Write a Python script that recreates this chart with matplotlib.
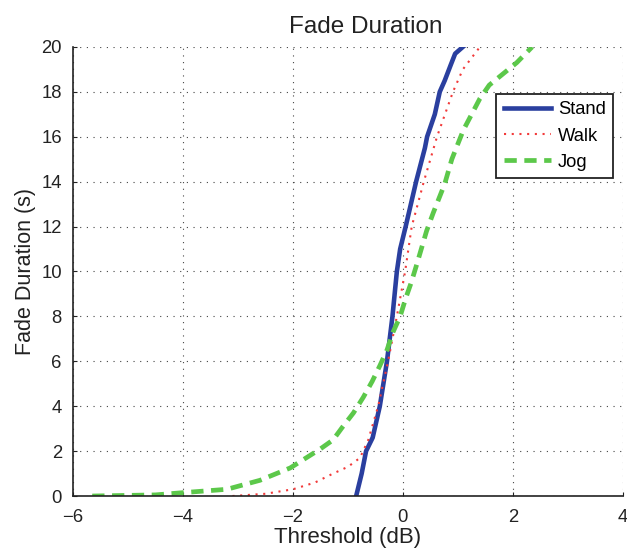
import matplotlib
matplotlib.use("Agg")
import matplotlib.pyplot as plt

plt.rcParams['font.family'] = ['Liberation Sans', 'DejaVu Sans']

# fade duration (s) vs threshold (dB)
stand_x = [-0.85, -0.75, -0.67, -0.55, -0.42, -0.29, -0.19, -0.11, -0.05, 0.05,
           0.24, 0.40, 0.44, 0.58, 0.67, 0.76, 0.87, 0.95, 1.09]
stand_y = [0.0, 1.0, 2.0, 2.6, 4.0, 6.0, 8.0, 10.0, 11.0, 12.0,
           14.0, 15.5, 16.0, 17.0, 18.0, 18.5, 19.2, 19.7, 20.0]

walk_x = [-3.1, -2.5, -2.0, -1.6, -1.27, -1.0, -0.78, -0.63, -0.45, -0.27,
          -0.11, 0.04, 0.16, 0.38, 0.62, 0.91, 1.09, 1.40]
walk_y = [0.0, 0.1, 0.3, 0.6, 1.0, 1.3, 1.7, 2.5, 4.0, 6.0,
          8.0, 10.0, 12.0, 14.0, 16.0, 18.0, 19.0, 20.0]

jog_x = [-5.65, -4.5, -4.0, -3.2, -2.6, -2.05, -1.5, -1.27, -1.09, -0.9,
         -0.72, -0.56, -0.42, -0.29, -0.18, -0.05, 0.05, 0.15, 0.25, 0.43,
         0.55, 0.76, 0.89, 0.97, 1.10, 1.25, 1.40, 1.57, 1.82, 2.07, 2.35]
jog_y = [0.0, 0.05, 0.15, 0.3, 0.7, 1.25, 2.1, 2.5, 3.1, 3.7,
         4.4, 5.1, 5.8, 6.5, 7.3, 8.0, 8.8, 9.5, 10.3, 11.8,
         12.6, 13.9, 15.0, 15.5, 16.3, 17.0, 17.7, 18.3, 18.8, 19.3, 20.0]

x_ticks = [-6, -4, -2, 0, 2, 4]
y_ticks = [0, 2, 4, 6, 8, 10, 12, 14, 16, 18, 20]

fig = plt.figure(figsize=(6.27, 5.49), dpi=100)
ax = fig.add_axes([0.1164, 0.0965, 0.877, 0.818])

ax.plot(stand_x, stand_y, color='#2a3f9f', lw=3.3, label='Stand')
ax.plot(walk_x, walk_y, color='#f23a3a', lw=1.5, ls=(0, (1, 2.7)), label='Walk')
ax.plot(jog_x, jog_y, color='#5cc84a', lw=3.4, ls=(0, (2.6, 1.6)), label='Jog')

ax.set_xlim(-6, 4)
ax.set_ylim(0, 20)
ax.set_xticks(x_ticks)
ax.set_yticks(y_ticks)
ax.set_xticklabels(['\u2212' + str(-t) if t < 0 else str(t) for t in x_ticks])
ax.tick_params(direction='in', length=3, labelsize=13.3, colors='#222222')
ax.tick_params(axis='x', pad=9)
ax.tick_params(axis='y', pad=8)
ax.grid(True, ls=(0, (1, 5)), color='#444444', lw=0.8)

for s in ['top', 'right']:
    ax.spines[s].set_visible(False)
for s in ['left', 'bottom']:
    ax.spines[s].set_color('#222222')
    ax.spines[s].set_linewidth(1.2)

ax.set_title('Fade Duration', fontsize=17.5, color='#222222', pad=10, x=0.532)
ax.set_xlabel('Threshold (dB)', fontsize=16, color='#222222', labelpad=1)
ax.set_ylabel('Fade Duration (s)', fontsize=15.5, color='#222222', labelpad=4)

leg = ax.legend(loc='upper right', bbox_to_anchor=(0.982, 0.895), fontsize=13.2,
                fancybox=False, framealpha=1, edgecolor='#222222', borderaxespad=0,
                handlelength=2.6, borderpad=0.4, labelspacing=0.5, handletextpad=0.35)
leg.get_frame().set_linewidth(1.3)

fig.savefig('out.png', dpi=100)
